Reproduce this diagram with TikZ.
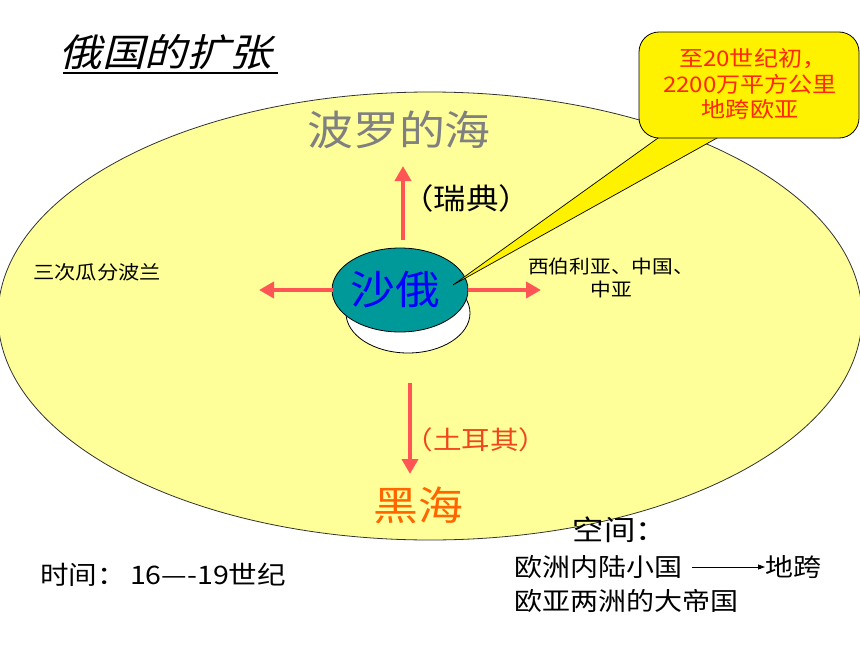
\documentclass[tikz,border=0pt]{standalone}
\usepackage{fontspec}
\setmainfont{Noto Sans CJK SC}
\newfontfamily\cjk[FakeStretch=1.12]{Noto Sans CJK SC}
\newfontfamily\cjkit[FakeSlant=0.25,FakeStretch=1.12]{Noto Sans CJK SC}
\usetikzlibrary{arrows.meta,shapes.geometric}
\definecolor{bigyellow}{RGB}{255,255,153}
\definecolor{teal2}{RGB}{0,153,153}
\definecolor{arrowred}{RGB}{255,85,85}
\definecolor{seagray}{RGB}{128,128,128}
\definecolor{blackseaorange}{RGB}{255,102,0}
\definecolor{turkred}{RGB}{240,70,30}
\definecolor{callred}{RGB}{255,40,0}
\newcommand{\fs}[1]{\fontsize{#1}{#1}\selectfont}
\tikzset{
  dirarrow/.style={draw=arrowred, line width=4.5pt, -{Triangle[length=15pt,width=16pt]}},
  lbl/.style={inner sep=0pt, align=center},
}
\begin{document}
\begin{tikzpicture}[x=1pt,y=-1pt]
\useasboundingbox (0,0) rectangle (860,645);
\fill[white] (0,0) rectangle (860,645);
% big ellipse
\node[ellipse, draw=black!80, line width=0.8pt, fill=bigyellow, minimum width=864pt, minimum height=448pt, inner sep=0pt] (world) at (430,316) {};
% title
\node[lbl, font=\cjkit\fs{38}] (title) at (166,52) {俄国的扩张};
\draw[line width=1.5pt] (63,73) -- (278,73);
% Russia disc
\node[ellipse, draw=black, line width=0.8pt, fill=white, minimum width=124pt, minimum height=80pt, inner sep=0pt] (base) at (408,313) {};
\node[ellipse, draw=black, line width=0.8pt, fill=teal2, minimum width=136pt, minimum height=84pt, inner sep=0pt] (russia) at (400,290) {};
\node[lbl, font=\cjk\fs{40}, text=blue] (russiatxt) at (395,290) {沙俄};
% direction coordinates
\coordinate (upS) at (403,240);
\coordinate (upE) at (403,166);
\coordinate (leftS) at (333,290);
\coordinate (leftE) at (259,290);
\coordinate (rightS) at (468,290);
\coordinate (rightE) at (541,290);
\coordinate (downS) at (410,383);
\coordinate (downE) at (410,474);
\draw[dirarrow] (upS) -- (upE);
\draw[dirarrow] (leftS) -- (leftE);
\draw[dirarrow] (rightS) -- (rightE);
\draw[dirarrow] (downS) -- (downE);
% labels
\node[lbl, font=\cjk\fs{41}, text=seagray] (baltic) at (399,130) {波罗的海};
\node[lbl, font=\cjk\fs{29}] (sweden) at (466,198) {（瑞典）};
\node[lbl, font=\cjk\fs{19}] (poland) at (97,272) {三次瓜分波兰};
\node[lbl, font=\cjk\fs{18.5}] (siberia) at (611,278) {西伯利亚、中国、\\[4pt]中亚};
\node[lbl, font=\cjk\fs{25.5}, text=turkred] (turkey) at (476,440) {（土耳其）};
\node[lbl, font=\cjk\fs{40}, text=blackseaorange] (blacksea) at (418,505) {黑海};
% callout
\coordinate (tip) at (453,285);
\coordinate (wedgeA) at (672,128);
\coordinate (wedgeB) at (735,128);
\draw[fill=yellow, line width=0.7pt] (tip) -- (wedgeA) -- (wedgeB) -- cycle;
\node[draw=black, line width=0.8pt, fill=yellow, rounded corners=20pt, minimum width=220pt, minimum height=106pt, inner sep=0pt] (callout) at (749,85) {};
\node[lbl, font=\cjk\fs{21.5}, text=callred] (calltxt) at (750,84) {\ 至20世纪初，\\[4pt]2200万平方公里\\[4pt]地跨欧亚};
% bottom texts
\node[lbl, anchor=west, font=\cjk\fs{25.5}] (time) at (40,575) {时间：\,16—-19世纪};
\node[lbl, font=\cjk\fs{28}] (space) at (620,530) {空间：};
\node[lbl, anchor=west, font=\cjk\fs{25}] (from) at (514,567) {欧洲内陆小国};
\node[lbl, anchor=west, font=\cjk\fs{25}] (to) at (765,567) {地跨};
\draw[line width=0.8pt, -{Triangle[length=7pt,width=5pt]}] (from.east) ++(10,0) coordinate (arrS) -- (to.west);
\node[lbl, anchor=west, font=\cjk\fs{25}] (empire) at (514,601) {欧亚两洲的大帝国};
\end{tikzpicture}
\end{document}
